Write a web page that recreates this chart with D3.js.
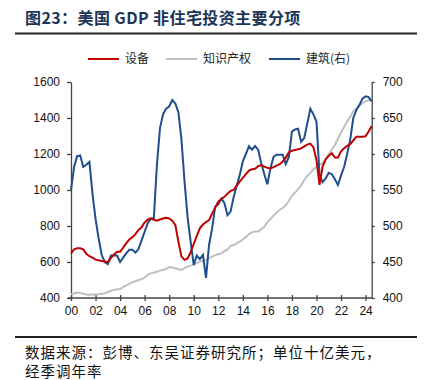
<!DOCTYPE html>
<html>
<head>
<meta charset="utf-8">
<script src="https://cdn.jsdelivr.net/npm/d3@7"></script>
<style>
  body { margin: 0; background: #fff; }
  .axis text { font-family: "Liberation Sans", Arial, sans-serif; font-size: 12px; fill: #111; }
  .axis path, .axis line { stroke: #444; stroke-width: 1.3; }
</style>
</head>
<body>
<div id="chart"></div>
<script>
// quarterly, 2000Q1 .. 2024Q3
const equipment = [
  648, 670, 676, 676,   670, 645, 632, 624,   613, 610, 605, 603,   600, 622, 642, 657,
  657, 680, 705, 725,   738, 755, 778, 793,   820, 835, 843, 835,   830, 836, 842, 846,
  842, 830, 806, 713,   630, 612, 620, 655,   700, 745, 787, 808,   822, 833, 870, 902,
  935, 950, 962, 980,   995, 1000, 1025, 1046, 1068, 1088, 1108, 1115, 1118, 1132, 1139, 1130,
  1124, 1120, 1127, 1135, 1143, 1158, 1180, 1210, 1218, 1222, 1226, 1231, 1242, 1252, 1258, 1238,
  1167, 1028, 1130, 1170, 1190, 1204, 1180, 1180, 1215, 1232, 1245, 1255, 1275, 1296, 1296, 1296,
  1298, 1325, 1355
]
const ip = [
  420, 425, 430, 428,   424, 420, 418, 420,   420, 421, 423, 426,   432, 440, 445, 448,
  450, 460, 470, 478,   487, 493, 500, 504,   514, 528, 537, 542,   546, 552, 556, 562,
  572, 570, 565, 560,   556, 566, 574, 580,   585, 594, 602, 606,   611, 620, 630, 638,
  643, 648, 660, 670,   690, 694, 704, 713,   725, 738, 755, 766,   769, 770, 782, 795,
  822, 838, 858, 875,   889, 900, 915, 940,   968, 985, 1005, 1025, 1054, 1078, 1095, 1115,
  1128, 1139, 1150, 1170, 1198, 1225, 1250, 1285, 1320, 1350, 1380, 1407, 1437, 1455, 1470, 1482,
  1492, 1500, 1500
]
const construction = [
  550, 582, 597, 598,   582, 585, 589, 545,   510, 483, 460, 450,   447, 459, 459, 459,
  450, 456, 462, 467,   467, 463, 468, 480,   492, 504, 510, 511,   585, 636, 655, 663,
  666, 675, 670, 658,   620, 562, 512, 478,   446, 459, 454, 460,   428, 474, 497, 527,
  530, 538, 532, 515,   520, 540, 556, 571,   590, 600, 611, 606,   611, 606, 587, 572,
  558, 580, 596, 599,   599, 599, 586, 596,   631, 634, 635, 617,   622, 642, 663, 655,
  645, 571, 561, 566,   574, 572, 565, 557,   570, 582, 600, 620,   650, 661, 668, 677,
  680, 679, 673
]
const leftTicks = [400, 600, 800, 1000, 1200, 1400, 1600]
const rightTicks = [400, 450, 500, 550, 600, 650, 700]
const xTicks = d3.range(2000, 2025, 2)

const title = '图23：美国 GDP 非住宅投资主要分项'
const source1 = '数据来源：彭博、东吴证券研究所；单位十亿美元，'
const source2 = '经季调年率'
const seriesNames = ['设备', '知识产权', '建筑(右)']
const colors = ['#c00000', '#bfbfbf', '#1f4e8c']

const W = 429
const H = 380
const plot = { left: 71, right: 371.7, top: 82, bottom: 298 }

const svg = d3.select('#chart')
  .append('svg')
  .attr('width', W)
  .attr('height', H)

const t = equipment.map((d, i) => 2000 + i / 4)

const xScale = d3.scaleLinear().domain([2000, 2024.5]).range([plot.left, plot.right])
const yLeft = d3.scaleLinear().domain([400, 1600]).range([plot.bottom, plot.top])
const yRight = d3.scaleLinear().domain([400, 700]).range([plot.bottom, plot.top])

/* title + rules */
svg.append('text')
  .attr('x', 25)
  .attr('y', 24)
  .style('font-family', '"Noto Sans CJK SC", sans-serif')
  .style('font-size', '16px')
  .style('font-weight', 'bold')
  .style('letter-spacing', '0.4px')
  .attr('fill', '#1c3557')
  .text(title)

svg.append('line')
  .attr('x1', 15).attr('x2', 417)
  .attr('y1', 33.5).attr('y2', 33.5)
  .attr('stroke', '#222').attr('stroke-width', 2)

svg.append('line')
  .attr('x1', 15).attr('x2', 417)
  .attr('y1', 337).attr('y2', 337)
  .attr('stroke', '#222').attr('stroke-width', 2)

svg.append('text')
  .attr('x', 25).attr('y', 358)
  .style('font-family', '"Noto Sans CJK SC", sans-serif')
  .style('font-size', '14.5px')
  .style('letter-spacing', '1px')
  .attr('fill', '#111')
  .text(source1)

svg.append('text')
  .attr('x', 25).attr('y', 377)
  .style('font-family', '"Noto Sans CJK SC", sans-serif')
  .style('font-size', '14.5px')
  .style('letter-spacing', '1px')
  .attr('fill', '#111')
  .text(source2)

/* axes */
const xAxis = d3.axisBottom(xScale)
  .tickValues(xTicks)
  .tickSize(3)
  .tickSizeOuter(0)
  .tickFormat(d => String(d % 100).padStart(2, '0'))

svg.append('g')
  .attr('class', 'axis x-axis')
  .attr('transform', 'translate(0,' + plot.bottom + ')')
  .call(xAxis)

svg.selectAll('.x-axis .tick line').attr('y1', -3)
svg.selectAll('.x-axis .tick text').attr('dy', '0.95em')
svg.select('.x-axis .domain').attr('d', 'M' + (plot.left - 3) + ',0H' + plot.right)

svg.append('g')
  .attr('class', 'axis y-left')
  .attr('transform', 'translate(' + plot.left + ',0)')
  .call(d3.axisLeft(yLeft).tickValues(leftTicks).tickFormat(d3.format('d'))
    .tickSize(4).tickSizeOuter(0).tickPadding(7))

svg.append('g')
  .attr('class', 'axis y-right')
  .attr('transform', 'translate(' + plot.right + ',0)')
  .call(d3.axisRight(yRight).tickValues(rightTicks).tickFormat(d3.format('d'))
    .tickSize(3).tickSizeOuter(0).tickPadding(8))

/* lines */
const lineLeft = d3.line()
  .x((d, i) => xScale(t[i]))
  .y(d => yLeft(d))

const lineRight = d3.line()
  .x((d, i) => xScale(t[i]))
  .y(d => yRight(d))

svg.append('path')
  .datum(ip)
  .attr('d', lineLeft)
  .attr('fill', 'none')
  .attr('stroke', colors[1])
  .attr('stroke-width', 2)

svg.append('path')
  .datum(construction)
  .attr('d', lineRight)
  .attr('fill', 'none')
  .attr('stroke', colors[2])
  .attr('stroke-width', 2)

svg.append('path')
  .datum(equipment)
  .attr('d', lineLeft)
  .attr('fill', 'none')
  .attr('stroke', colors[0])
  .attr('stroke-width', 2)

/* legend */
const legendX = [88, 166, 269]
const legend = svg.append('g').attr('class', 'legend')

seriesNames.forEach((name, i) => {
  legend.append('line')
    .attr('x1', legendX[i]).attr('x2', legendX[i] + 31)
    .attr('y1', 59).attr('y2', 59)
    .attr('stroke', colors[i])
    .attr('stroke-width', 2)
  legend.append('text')
    .attr('x', legendX[i] + 37)
    .attr('y', 63)
    .style('font-family', '"Noto Sans CJK SC", sans-serif')
    .style('font-size', '12px')
    .attr('fill', '#222')
    .text(name)
})
</script>
</body>
</html>
